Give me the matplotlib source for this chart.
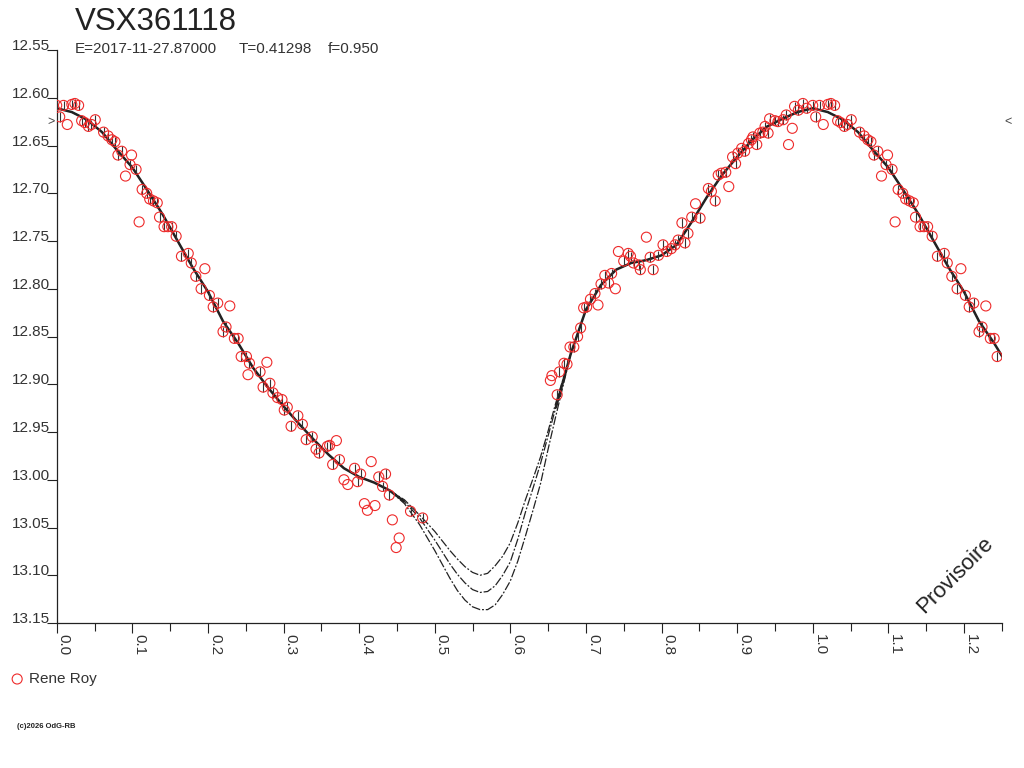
import matplotlib
matplotlib.use("Agg")
import matplotlib.pyplot as plt
from matplotlib.transforms import blended_transform_factory
import numpy as np

plt.rcParams['font.family'] = ['Liberation Sans', 'DejaVu Sans']

star = "VSX361118"
epoch_text = "E=2017-11-27.87000"
period_text = "T=0.41298"
f_text = "f=0.950"
observer = "Rene Roy"
copyright_text = "(c)2026 OdG-RB"
stamp = "Provisoire"

# observations (phase 0..1), e = typical error, 0 = no error bar
e = 0.005
phase = [0.000, 0.004, 0.009, 0.014, 0.020, 0.024, 0.029, 0.033, 0.037, 0.042,
         0.046, 0.051, 0.062, 0.068, 0.073, 0.077, 0.081, 0.086, 0.099, 0.091,
         0.097, 0.105, 0.109, 0.113, 0.119, 0.123, 0.128, 0.133, 0.136, 0.142,
         0.147, 0.152, 0.158, 0.165, 0.174, 0.178, 0.184, 0.196, 0.191, 0.202,
         0.207, 0.213, 0.229, 0.220, 0.224, 0.235, 0.240, 0.244, 0.251, 0.253,
         0.255, 0.278, 0.269, 0.273, 0.282, 0.286, 0.292, 0.298, 0.301, 0.305,
         0.310, 0.319, 0.325, 0.330, 0.338, 0.343, 0.347, 0.358, 0.361, 0.370,
         0.365, 0.374, 0.380, 0.385, 0.394, 0.398, 0.402, 0.416, 0.426, 0.435,
         0.431, 0.440, 0.407, 0.411, 0.421, 0.444, 0.453, 0.449, 0.468, 0.484,
         0.653, 0.655, 0.662, 0.665, 0.671, 0.675, 0.679, 0.684, 0.689, 0.693,
         0.697, 0.701, 0.706, 0.712, 0.716, 0.720, 0.725, 0.730, 0.734, 0.739,
         0.743, 0.750, 0.756, 0.759, 0.763, 0.770, 0.772, 0.780, 0.785, 0.789,
         0.796, 0.802, 0.807, 0.813, 0.818, 0.822, 0.831, 0.827, 0.835, 0.840,
         0.851, 0.845, 0.862, 0.866, 0.871, 0.889, 0.875, 0.879, 0.885, 0.894,
         0.898, 0.901, 0.906, 0.910, 0.915, 0.919, 0.921, 0.926, 0.930, 0.934,
         0.941, 0.937, 0.943, 0.950, 0.954, 0.961, 0.965, 0.976, 0.981, 0.987,
         0.992, 0.973, 0.968]
mag = [12.608, 12.620, 12.608, 12.628, 12.607, 12.606, 12.608, 12.624, 12.626, 12.630,
       12.628, 12.623, 12.636, 12.640, 12.644, 12.646, 12.660, 12.656, 12.660, 12.682,
       12.670, 12.675, 12.730, 12.696, 12.700, 12.706, 12.708, 12.710, 12.725, 12.735,
       12.735, 12.735, 12.745, 12.766, 12.763, 12.773, 12.787, 12.779, 12.800, 12.807,
       12.819, 12.815, 12.818, 12.845, 12.840, 12.852, 12.852, 12.871, 12.871, 12.890,
       12.878, 12.877, 12.887, 12.903, 12.899, 12.909, 12.914, 12.916, 12.927, 12.924,
       12.944, 12.933, 12.942, 12.958, 12.955, 12.968, 12.972, 12.965, 12.964, 12.959,
       12.984, 12.979, 13.000, 13.005, 12.988, 13.002, 12.994, 12.981, 12.997, 12.994,
       13.007, 13.016, 13.025, 13.032, 13.027, 13.042, 13.061, 13.071, 13.033, 13.040,
       12.896, 12.891, 12.911, 12.887, 12.878, 12.879, 12.861, 12.861, 12.850, 12.841,
       12.820, 12.819, 12.811, 12.805, 12.817, 12.795, 12.786, 12.794, 12.784, 12.800,
       12.761, 12.771, 12.763, 12.766, 12.773, 12.775, 12.780, 12.746, 12.767, 12.780,
       12.765, 12.754, 12.761, 12.758, 12.754, 12.749, 12.752, 12.731, 12.742, 12.725,
       12.726, 12.711, 12.695, 12.698, 12.708, 12.693, 12.681, 12.679, 12.678, 12.662,
       12.669, 12.658, 12.653, 12.656, 12.648, 12.644, 12.641, 12.649, 12.637, 12.636,
       12.637, 12.630, 12.622, 12.624, 12.625, 12.623, 12.618, 12.609, 12.613, 12.606,
       12.611, 12.632, 12.649]
err = [e, e, e, 0, e, e, e, e, e, e,
       e, e, e, e, e, e, e, e, 0, 0,
       e, e, 0, e, e, e, e, e, e, e,
       e, e, e, e, e, e, e, 0, e, e,
       e, e, 0, e, e, e, e, e, e, 0,
       e, 0, e, e, e, e, e, e, e, e,
       e, e, e, e, e, e, e, e, e, 0,
       e, e, 0, 0, e, e, e, 0, e, e,
       e, e, 0, 0, 0, 0, 0, 0, e, e,
       0, 0, e, e, e, e, e, e, e, e,
       e, e, e, e, 0, e, e, e, e, 0,
       0, e, e, e, e, e, e, 0, e, e,
       e, e, e, e, e, e, e, e, e, e,
       e, 0, e, e, e, 0, e, e, e, e,
       e, e, e, e, e, e, e, e, e, e,
       e, e, e, e, e, e, e, e, e, e,
       e, 0, 0]

# fitted light curve
fit_phase = [0.00, 0.02, 0.04, 0.06, 0.08, 0.10, 0.12, 0.14, 0.16, 0.18,
             0.20, 0.22, 0.24, 0.26, 0.28, 0.30, 0.32, 0.34, 0.36, 0.38,
             0.40, 0.42, 0.44, 0.46, 0.48, 0.50, 0.52, 0.53, 0.54, 0.55,
             0.56, 0.57, 0.58, 0.59, 0.60, 0.61, 0.62, 0.63, 0.64, 0.65,
             0.66, 0.68, 0.70, 0.72, 0.74, 0.76, 0.78,
             0.80, 0.82, 0.84, 0.86, 0.88, 0.90, 0.92, 0.94, 0.96, 0.98, 1.00]
fit_mag = [12.611, 12.615, 12.623, 12.636, 12.655, 12.673, 12.697, 12.722, 12.750, 12.778,
           12.803, 12.834, 12.857, 12.883, 12.904, 12.923, 12.941, 12.958, 12.974, 12.988,
           12.997, 13.003, 13.011, 13.023, 13.040, 13.063, 13.088, 13.099, 13.108, 13.115,
           13.118, 13.117, 13.111, 13.100, 13.086, 13.062, 13.034, 13.009, 12.983, 12.954,
           12.925, 12.868, 12.822, 12.796, 12.780, 12.773, 12.770,
           12.765, 12.754, 12.730, 12.704, 12.681, 12.662, 12.644, 12.630, 12.622, 12.615, 12.611]

# envelope around the minimum
dip_phase = [0.44, 0.46, 0.48, 0.50, 0.52, 0.53, 0.54, 0.55, 0.56, 0.57,
             0.58, 0.59, 0.60, 0.61, 0.62, 0.63, 0.64, 0.65, 0.66, 0.68]
dip_upper = [13.011, 13.021, 13.037, 13.054, 13.074, 13.083, 13.091, 13.097, 13.100, 13.098,
             13.090, 13.080, 13.066, 13.045, 13.021, 12.999, 12.976, 12.949, 12.920, 12.868]
dip_lower = [13.011, 13.025, 13.047, 13.074, 13.103, 13.116, 13.126, 13.133, 13.136, 13.136,
             13.131, 13.120, 13.106, 13.085, 13.059, 13.032, 13.004, 12.968, 12.934, 12.868]

yticks = [12.55, 12.60, 12.65, 12.70, 12.75, 12.80, 12.85, 12.90, 12.95, 13.00, 13.05, 13.10, 13.15]
xticks = [0.0, 0.1, 0.2, 0.3, 0.4, 0.5, 0.6, 0.7, 0.8, 0.9, 1.0, 1.1, 1.2]
xminor = [0.05, 0.15, 0.25, 0.35, 0.45, 0.55, 0.65, 0.75, 0.85, 0.95, 1.05, 1.15, 1.25]
max_level = 12.625

ink = '#222222'
red = '#ee2a2a'

# fold: repeat the first quarter of the cycle after phase 1
p = np.array(phase)
m = np.array(mag)
er = np.array(err)
rep = p <= 0.25
P = np.concatenate([p, p[rep] + 1])
M = np.concatenate([m, m[rep]])
E = np.concatenate([er, er[rep]])

fp = np.array(fit_phase)
fm = np.array(fit_mag)
frep = (fp > 0) & (fp <= 0.26)
FP = np.concatenate([fp, fp[frep] + 1])
FM = np.concatenate([fm, fm[frep]])

fig = plt.figure(figsize=(10.24, 7.68), dpi=100)
ax = fig.add_axes([56.7 / 1024, 1 - 623 / 768, 945 / 1024, 573 / 768])

dash = (0, (7, 1.5, 1.5, 1.5))
ax.plot(FP, FM, color=ink, lw=0.9, linestyle=dash, zorder=2)
ax.plot(dip_phase, dip_upper, color=ink, lw=0.9, linestyle=dash, zorder=2)
ax.plot(dip_phase, dip_lower, color=ink, lw=0.9, linestyle=dash, zorder=2)
left = FP <= 0.46
right = FP >= 0.66
ax.plot(FP[left], FM[left], color=ink, lw=1.8, solid_capstyle='butt', zorder=2)
ax.plot(FP[right], FM[right], color=ink, lw=1.8, solid_capstyle='butt', zorder=2)

ax.errorbar(P, M, yerr=E, fmt='none', ecolor='#333333', elinewidth=0.8, capsize=0, zorder=3)
pts = ax.scatter(P, M, s=52, facecolors='none', edgecolors=red, linewidths=0.8, zorder=4, label=observer)

ax.set_xlim(0, 1.25)
ax.set_ylim(13.15, 12.55)
for s in ['top', 'right']:
    ax.spines[s].set_visible(False)
for s in ['left', 'bottom']:
    ax.spines[s].set_color(ink)
    ax.spines[s].set_linewidth(0.9)

ax.set_yticks(yticks)
ax.set_yticklabels(['%.2f' % v for v in yticks], va='baseline', fontsize=11, color='#333333')
ax.set_xticks(xticks)
ax.set_xticklabels(['%.1f' % v for v in xticks], rotation=-90, ha='left', va='top',
                   fontsize=11, color='#333333')
ax.set_xticks(xminor, minor=True)
ax.tick_params(axis='y', direction='out', length=7.2, width=0.8, color=ink, pad=-2.6)
ax.tick_params(axis='x', which='major', direction='out', length=7.2, width=0.8, color=ink, pad=0.8)
ax.tick_params(axis='x', which='minor', direction='out', length=5.8, width=0.8, color=ink)

tr_l = blended_transform_factory(ax.transAxes, ax.transData)
ax.text(-0.002, max_level, '>', transform=tr_l, ha='right', va='center', fontsize=9, color='#444444')
ax.text(1.003, max_level, '<', transform=tr_l, ha='left', va='center', fontsize=9, color='#444444')

fig.text(75 / 1024, 1 - 30 / 768, star, fontsize=22.5, color=ink, va='baseline')
fig.text(75 / 1024, 1 - 53 / 768, epoch_text, fontsize=11, color='#333333', va='baseline')
fig.text(239 / 1024, 1 - 53 / 768, period_text, fontsize=11, color='#333333', va='baseline')
fig.text(328 / 1024, 1 - 53 / 768, f_text, fontsize=11, color='#333333', va='baseline')

fig.text(955 / 1024, 1 - 575 / 768, stamp, rotation=45, fontsize=16, color=ink,
         ha='center', va='center')

fig.legend(handles=[pts], loc='upper left', bbox_to_anchor=(8 / 1024, 1 - 672 / 768),
           frameon=False, fontsize=11, handletextpad=0.2, borderaxespad=0, borderpad=0,
           handlelength=1.2, labelcolor='#333333')
fig.text(17 / 1024, 1 - 728 / 768, copyright_text, fontsize=5.5, color=ink, weight='bold')

fig.savefig('out.png', dpi=100, facecolor='white')
